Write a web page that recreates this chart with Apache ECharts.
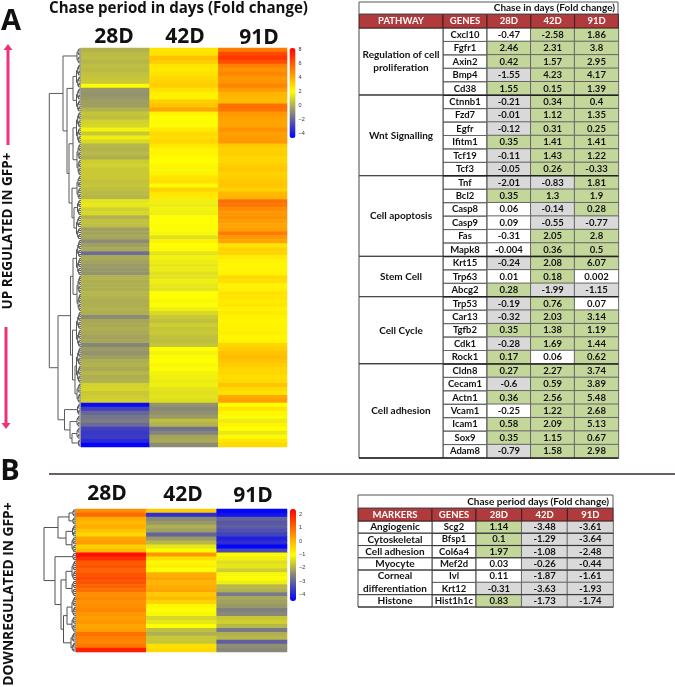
<!DOCTYPE html>
<html>
<head>
<meta charset="utf-8">
<style>html,body{margin:0;padding:0;background:#fff}#c{width:675px;height:687px}</style>
<script src="https://cdn.jsdelivr.net/npm/echarts@6/dist/echarts.min.js"></script>
</head>
<body>
<div id="c"></div>
<script>
const days = ['28D','42D','91D'];

// Panel A heatmap, one value per row
const heatA28 = [0,.2,.3,.1,.3,.2,.4,.5,.6,1.9,-.7,-.8,-.7,-.5,-.5,0,.5,.3,.8,.9,1.7,.6,1.6,1.0,.1,0,.2,-.1,.7,.8,.6,.6,
 .6,.4,.5,.3,.2,.1,1.3,1.4,.8,1.0,0,.4,.3,-.5,-.4,-.3,-1.0,-.5,-.2,-1.8,-.2,-.4,-.6,-.7,-.8,0,-.1,-.1,-.1,.1,0,-.1,-.1,0,
 -.1,-1.0,-.3,-.2,-.1,-.2,-.4,-.3,-1.1,-.6,-.8,-.5,-.1,0,-.2,.1,-.1,0,.8,.9,.6,.7,.8,-4.4,-3.0,-2.0,-1.6,-1.4,-1.9,-3.0,-3.2,-3.1,-3.6,-4.6];
const heatA42 = [2.6,2.7,3.5,3.2,2.6,2.5,2.7,2.9,3.1,3.2,2.7,2.4,2.3,3.2,3.4,4.2,2.3,2.0,2.1,1.9,2.5,2.9,2.8,3.0,2.6,2.2,2.3,2.1,2.0,2.2,1.8,2.3,
 2.6,2.8,1.9,3.1,2.6,2.5,1.6,1.5,1.7,1.6,2.0,2.0,1.9,1.9,1.8,1.2,2.3,2.0,2.1,1.3,1.7,1.5,1.4,1.5,1.2,1.3,1.6,1.4,1.3,2.0,2.0,1.8,1.9,1.6,
 1.0,.6,.4,.7,.5,.6,.4,.3,.5,2.0,1.7,1.9,2.0,1.8,1.9,1.7,1.6,1.5,1.6,1.3,1.2,1.3,1.1,-.8,-1.1,-.9,-.6,.3,0,-1.7,-1.2,-.4,-.2,-1.0];
const heatA91 = [5.2,6.4,6.9,6.3,5.1,4.7,4.9,4.5,4.6,5.0,4.4,3.8,3.7,3.6,5.5,5.4,4.5,4.3,4.2,4.2,4.7,4.3,4.4,4.5,3.3,3.1,3.2,3.0,3.0,3.2,3.3,3.1,
 3.2,3.3,3.4,3.1,3.7,3.8,5.5,5.3,4.8,4.5,4.7,4.4,4.2,4.3,5.2,4.5,4.2,2.7,3.1,3.0,2.5,2.3,2.2,2.2,2.3,2.9,2.8,2.3,2.4,2.7,2.6,2.5,2.6,2.3,
 2.5,2.3,2.2,2.3,2.3,2.4,2.2,2.3,3.0,3.2,3.5,3.6,3.4,3.2,3.0,3.0,2.8,2.9,3.4,2.9,2.7,4.1,4.3,2.0,2.6,2.2,1.9,1.5,2.3,2.0,1.4,2.1,2.6,2.9];

// Panel B heatmap, one value per row
const heatB28 = [.5,1.0,.1,-.1,.1,-.2,-.5,.2,.3,-.4,-.1,2.2,1.8,1.2,1.3,1.1,1.3,1.4,1.3,1.1,.9,.5,.6,.4,.5,.6,.4,.3,.4,.2,.3,.9,.7,.6,.8,2.0];
const heatB42 = [-.3,-3.8,-2.5,-2.3,-2.0,-2.2,-3.0,-2.3,-1.9,-1.3,-1.0,.4,-.6,-.9,-.8,-1.0,.1,.2,0,.1,.2,-.3,-.1,-.4,-.9,-1.0,-1.1,-1.5,-1.3,-1.0,-1.8,-2.0,-1.7,-1.7,-.6,-.5];
const heatB91 = [-4.4,-4.2,-3.0,-3.2,-3.1,-3.3,-3.5,-4.0,-3.8,-4.4,-3.4,-.9,-1.2,-1.4,-1.3,-1.6,-1.1,-1.0,-1.2,-1.9,-2.0,-2.7,-2.1,-2.2,-2.3,-2.6,-2.5,-1.7,-1.6,-1.9,-2.7,-2.0,-1.9,-3.1,-2.4,-2.5];

// Colour scale ticks
const ticksA = [8,6,4,2,0,-2,-4];
const ticksB = [2,1,0,-1,-2,-3,-4];

// Table A
const pathwayNames = ['Regulation of cell\nproliferation','Wnt Signalling','Cell apoptosis','Stem Cell','Cell Cycle','Cell adhesion'];
const pathwaySizes = [5,6,6,3,5,7];
const genesA = ['Cxcl10','Fgfr1','Axin2','Bmp4','Cd38','Ctnnb1','Fzd7','Egfr','Ifitm1','Tcf19','Tcf3','Tnf','Bcl2','Casp8','Casp9','Fas','Mapk8','Krt15','Trp63','Abcg2','Trp53','Car13','Tgfb2','Cdk1','Rock1','Cldn8','Cecam1','Actn1','Vcam1','Icam1','Sox9','Adam8'];
const foldA28 = [-0.47,2.46,0.42,-1.55,1.55,-0.21,-0.01,-0.12,0.35,-0.11,-0.05,-2.01,0.35,0.06,0.09,-0.31,-0.004,-0.24,0.01,0.28,-0.19,-0.32,0.35,-0.28,0.17,0.27,-0.6,0.36,-0.25,0.58,0.35,-0.79];
const foldA42 = [-2.58,2.31,1.57,4.23,0.15,0.34,1.12,0.31,1.41,1.43,0.26,-0.83,1.3,-0.14,-0.55,2.05,0.36,2.08,0.18,-1.99,0.76,2.03,1.38,1.69,0.06,2.27,0.59,2.56,1.22,2.09,1.15,1.58];
const foldA91 = [1.86,3.8,2.95,4.17,1.39,0.4,1.35,0.25,1.41,1.22,-0.33,1.81,1.9,0.28,-0.77,2.8,0.5,6.07,0.002,-1.15,0.07,3.14,1.19,1.44,0.62,3.74,3.89,5.48,2.68,5.13,0.67,2.98];
const callA28 = 'wggsgsssgsssgwwwwswgssgsggsgwggs';
const callA42 = 'ggggggggggg'+'sgssgg'+'ggs'+'ggggw'+'ggggggg';
const callA91 = 'ggggggggggg'+'gggsgg'+'gws'+'wgggg'+'ggggggg';

// Table B
const markerNames = ['Angiogenic','Cytoskeletal','Cell adhesion','Myocyte','Corneal\ndifferentiation','Histone'];
const markerSizes = [1,1,1,1,2,1];
const genesB = ['Scg2','Bfsp1','Col6a4','Mef2d','Ivl','Krt12','Hist1h1c'];
const foldB28 = [1.14,0.1,1.97,0.03,0.11,-0.31,0.83];
const foldB42 = [-3.48,-1.29,-1.08,-0.26,-1.87,-3.63,-1.73];
const foldB91 = [-3.61,-3.64,-2.48,-0.44,-1.61,-1.93,-1.74];
const callB28 = 'gggwwsg';
const callB42 = 'sssssss';
const callB91 = 'sssssss';

const shade = {g:'#c4d79b', s:'#d9d9d9', w:'#ffffff'};
const tableFont = 'Lato, "Open Sans", sans-serif';
const headFont = '"Open Sans", sans-serif';

// Clusters split down to half-row leaves, which gives the dense comb at the heatmap edge
function split(lo,hi,d){
  if(lo===hi) return (lo+.5)/2;
  const m=Math.floor((lo+hi)/2);
  return [d, split(lo,m,d*0.74), split(m+1,hi,d*0.74)];
}
function C(a,b,d){ return split(a*2,b*2+1,d); }
const treeA = [31.7,
  [18, C(0,3,4),
    [14,
      [8, C(4,9,4.5), C(10,15,4.5)],
      [12, [8, C(16,23,4.5), C(24,31,4)], [9, C(32,37,4), [7, C(38,41,3.5), C(42,47,4.5)]]]]],
  [23,
    [10.5, [8, C(48,56,4.5), C(57,65,4)], [8.5, C(66,74,4.5), [6, C(75,83,4.5), C(84,88,4)]]],
    [16.5, C(89,91,3.5), [11, C(92,94,4), [9, C(95,97,4), C(98,99,2.5)]]]]];
const treeB = [32,
  [18, [7, C(0,1,3), C(2,3,3)], [10, C(4,6,3.5), C(7,10,4)]],
  [21, C(11,12,3), [15, [10, C(13,17,4), C(18,21,4)], [12.5, [9, C(22,26,4), C(27,30,4)], C(31,35,5)]]]];
function flatten(node, out){
  if(typeof node === 'number') return {y:node, d:0};
  const a = flatten(node[1],out), b = flatten(node[2],out);
  out.push([node[0], a.y, b.y, a.d, b.d]);
  return {y:(a.y+b.y)/2, d:node[0]};
}
function treeData(t){ const o=[]; flatten(t,o); return o; }

function scale(stops, n){
  const out=[]; const lo=stops[0][0], hi=stops[stops.length-1][0];
  for(let i=0;i<n;i++){
    const v=lo+(hi-lo)*i/(n-1);
    let k=0; while(k<stops.length-2 && v>stops[k+1][0]) k++;
    const s=stops[k], e=stops[k+1], t=(v-s[0])/(e[0]-s[0]);
    const c=[0,1,2].map(j=>Math.round(s[1][j]+(e[1][j]-s[1][j])*t));
    out.push('rgb('+c.join(',')+')');
  }
  return out;
}
const blue=[0,0,255], gray=[128,128,128], yellow=[255,255,0], red=[255,0,0];
const rangeA=[-4.7,8.2], rangeB=[-4.47,2.4];
const colorsA=scale([[-4.7,blue],[-1.3,gray],[2,yellow],[8.2,red]],80);
const colorsB=scale([[-4.47,blue],[-2.6,gray],[-1,yellow],[2.4,red]],80);

function cells(cols){
  const out=[];
  cols.forEach((c,x)=>c.forEach((v,y)=>out.push([x,y,v])));
  return out;
}
function catAxis(gridIndex,data,inverse){
  return {type:'category',gridIndex,data,inverse:!!inverse,show:false,boundaryGap:true};
}

const grids=[], xAxes=[], yAxes=[], series=[], visualMaps=[];

function addHeat(box, cols, colors, range, bar, ticks, den, tree, nd){
  const g=grids.length;
  const rows=cols[0].map((_,i)=>i);
  grids.push({left:box.x,top:box.y,width:box.w,height:box.h});
  xAxes.push(catAxis(g,days));
  yAxes.push(catAxis(g,rows,true));
  const sIdx=series.length;
  series.push({type:'heatmap',xAxisIndex:g,yAxisIndex:g,data:cells(cols),progressive:0,emphasis:{disabled:true},itemStyle:{borderWidth:0}});
  visualMaps.push({type:'continuous',seriesIndex:sIdx,dimension:2,min:range[0],max:range[1],calculable:false,
    left:bar.x,top:bar.y,itemWidth:bar.w,itemHeight:bar.h,padding:0,text:null,showLabel:false,hoverLink:false,
    inRange:{color:colors}});
  // colour bar axis
  const g2=grids.length;
  grids.push({left:bar.x,top:bar.y,width:bar.w,height:bar.h});
  xAxes.push({type:'value',gridIndex:g2,show:false,min:0,max:1});
  yAxes.push({type:'value',gridIndex:g2,position:'right',min:range[0],max:range[1],
    axisLine:{show:false},axisTick:{show:false},splitLine:{show:false},
    axisLabel:{customValues:ticks,color:'#333',fontSize:5.5,margin:3,fontFamily:'"Liberation Sans",sans-serif',
      formatter:v=>(v<0?'\u2212'+(-v):String(v))}});
  // dendrogram
  const g3=grids.length;
  grids.push({left:den.x,top:box.y,width:box.x-den.x,height:box.h});
  xAxes.push({type:'value',gridIndex:g3,show:false,inverse:true,min:0,max:box.x-den.x});
  yAxes.push({type:'value',gridIndex:g3,show:false,inverse:true,min:0,max:nd});
  series.push({type:'custom',xAxisIndex:g3,yAxisIndex:g3,data:treeData(tree),silent:true,
    renderItem(p,api){
      const d=api.value(0),ya=api.value(1),yb=api.value(2),da=api.value(3),db=api.value(4);
      return {type:'polyline',shape:{points:[api.coord([da,ya]),api.coord([d,ya]),api.coord([d,yb]),api.coord([db,yb])]},
        style:{stroke:den.color,lineWidth:1,fill:null}};
    }});
}

function addTable(t){
  const g=grids.length;
  grids.push({left:t.xCol,top:t.yBody,width:t.colW*3,height:t.h});
  xAxes.push(catAxis(g,days));
  yAxes.push({type:'category',gridIndex:g,data:t.genes,inverse:true,
    axisLine:{show:false},axisTick:{show:false},
    axisLabel:{align:'center',margin:t.geneW/2,interval:0,fontFamily:tableFont,fontWeight:'bold',fontSize:t.fs,color:'#111'}});
  const data=[];
  t.cols.forEach((c,x)=>c.forEach((v,y)=>data.push({value:[x,y,v],itemStyle:{color:shade[t.calls[x][y]]}})));
  series.push({type:'heatmap',xAxisIndex:g,yAxisIndex:g,data,emphasis:{disabled:true},silent:true,
    itemStyle:{borderColor:'#666',borderWidth:1},
    label:{show:true,formatter:p=>String(p.value[2]),fontFamily:tableFont,fontWeight:'bold',fontSize:t.fs,color:'#111'}});
  // merged group column, gene cell lines and header
  let start=0; const groups=t.groupNames.map((n,i)=>{const o={n,start,size:t.groupSizes[i]};start+=o.size;return o;});
  const rowH=t.h/t.genes.length;
  series.push({type:'custom',xAxisIndex:g,yAxisIndex:g,silent:true,z:3,data:t.genes.map(()=>[0,0]),
    renderItem(p){
      return {type:'rect',shape:{x:t.xGene,y:t.yBody+p.dataIndex*rowH,width:t.xCol-t.xGene,height:rowH},
        style:{fill:null,stroke:'#666',lineWidth:1}};
    }});
  series.push({type:'custom',xAxisIndex:g,yAxisIndex:g,silent:true,z:4,data:groups.map((_,i)=>[0,i]),
    renderItem(p,api){
      const c=p.dataIndex, o=groups[c];
      const y0=t.yBody+o.start*rowH, hh=o.size*rowH, right=t.xCol+t.colW*3;
      return {type:'group',children:[
        {type:'rect',shape:{x:t.x0,y:y0,width:t.xGene-t.x0,height:hh},style:{fill:'#fff',stroke:t.groupLine,lineWidth:1}},
        {type:'line',shape:{x1:t.x0,y1:y0+hh,x2:right,y2:y0+hh},style:{stroke:t.sepColor,lineWidth:t.sepW}},
        {type:'text',style:{text:o.n,x:(t.x0+t.xGene)/2,y:y0+hh/2,align:'center',verticalAlign:'middle',lineHeight:t.groupLH,
          font:'bold '+t.groupFs+'px '+tableFont,fill:'#111'}}
      ]};
    }});
  const hdr=[t.headFirst,'GENES'].concat(days);
  const xs=[t.x0,t.xGene,t.xCol,t.xCol+t.colW,t.xCol+2*t.colW,t.xCol+3*t.colW];
  series.push({type:'custom',xAxisIndex:g,yAxisIndex:g,silent:true,z:5,data:hdr.map((_,i)=>[0,0]),
    renderItem(p){
      const i=p.dataIndex;
      return {type:'group',children:[
        {type:'rect',shape:{x:xs[i],y:t.yHead,width:xs[i+1]-xs[i],height:t.yBody-t.yHead},style:{fill:'#b13a3c',stroke:'#3a2020',lineWidth:1}},
        {type:'text',style:{text:hdr[i],x:(xs[i]+xs[i+1])/2,y:(t.yHead+t.yBody)/2,align:'center',verticalAlign:'middle',
          font:'bold '+t.fs+'px '+tableFont,fill:'#fff'}}
      ]};
    }});
}

addHeat({x:81,y:48,w:206,h:399},[heatA28,heatA42,heatA91],colorsA,rangeA,{x:289.5,y:48,w:6,h:90},ticksA,{x:45,color:'#5a5a5a'},treeA,100);
addHeat({x:76,y:509,w:211,h:143},[heatB28,heatB42,heatB91],colorsB,rangeB,{x:290,y:509,w:6,h:92},ticksB,{x:40,color:'#505050'},treeB,36);

addTable({x0:359,xGene:443,xCol:487,colW:43.8,yHead:14,yBody:28,h:430,genes:genesA,
  cols:[foldA28,foldA42,foldA91],calls:[callA28,callA42,callA91],
  groupNames:pathwayNames,groupSizes:pathwaySizes,geneW:44,fs:9.5,groupFs:10,groupLH:13,groupLine:'#444',
  sepColor:'#222',sepW:1.6,headFirst:'PATHWAY'});
addTable({x0:358,xGene:432,xCol:476,colW:45.7,yHead:508,yBody:521,h:86,genes:genesB,
  cols:[foldB28,foldB42,foldB91],calls:[callB28,callB42,callB91],
  groupNames:markerNames,groupSizes:markerSizes,geneW:44,fs:9.5,groupFs:10,groupLH:12.5,groupLine:'#444',
  sepColor:'#333',sepW:1,headFirst:'MARKERS'});

function txt(text,x,y,font,opt){
  return Object.assign({type:'text',x,y,z:10,style:{text,font,fill:'#111',align:'center',verticalAlign:'middle'}},opt||{});
}
const big='bold 21px '+headFont;
const pink='#f0307a';
function arrow(x,y1,y2,w){
  const up=y2<y1, tip=y2, base=up?y2+6:y2-6;
  return [
    {type:'line',z:10,shape:{x1:x,y1:y1,x2:x,y2:base},style:{stroke:pink,lineWidth:w}},
    {type:'polygon',z:10,shape:{points:[[x-4.5,base],[x+4.5,base],[x,tip]]},style:{fill:pink}}
  ];
}
const graphic=[
  txt('A',11,22,'bold 29px '+headFont),
  txt('B',10,472,'bold 29px '+headFont),
  txt('Chase period in days (Fold change)',178.5,9,'bold 15.1px '+headFont),
  txt(days[0],114,37,big), txt(days[1],185,37,big), txt(days[2],259,38,big),
  txt(days[0],107,494,big), txt(days[1],183,495,big), txt(days[2],253,496,big),
  txt('UP REGULATED IN GFP+',8,231,'bold 13.5px '+headFont,{rotation:Math.PI/2}),
  txt('DOWNREGULATED IN GFP+',9,594,'bold 13.8px '+headFont,{rotation:Math.PI/2}),
  ...arrow(8,145,44,3),
  ...arrow(6,327,429,3),
  {type:'line',z:10,shape:{x1:49,y1:474,x2:675,y2:474},style:{stroke:'#3a2a2a',lineWidth:1.5}},
  {type:'rect',z:9,shape:{x:359,y:2,width:259,height:12},style:{fill:'#fff',stroke:'#555',lineWidth:1}},
  {type:'text',x:615,y:8,z:10,style:{text:'Chase in days (Fold change)',font:'bold 10px '+tableFont,fill:'#111',align:'right',verticalAlign:'middle'}},
  {type:'rect',z:9,shape:{x:358,y:495,width:255,height:13},style:{fill:'#fff',stroke:'#555',lineWidth:1}},
  {type:'text',x:609,y:502,z:10,style:{text:'Chase period days (Fold change)',font:'bold 10px '+tableFont,fill:'#111',align:'right',verticalAlign:'middle'}}
];

const chart=echarts.init(document.getElementById('c'),null,{renderer:'canvas'});
chart.setOption({animation:false,backgroundColor:'#fff',grid:grids,xAxis:xAxes,yAxis:yAxes,visualMap:visualMaps,series,graphic});
</script>
</body>
</html>
